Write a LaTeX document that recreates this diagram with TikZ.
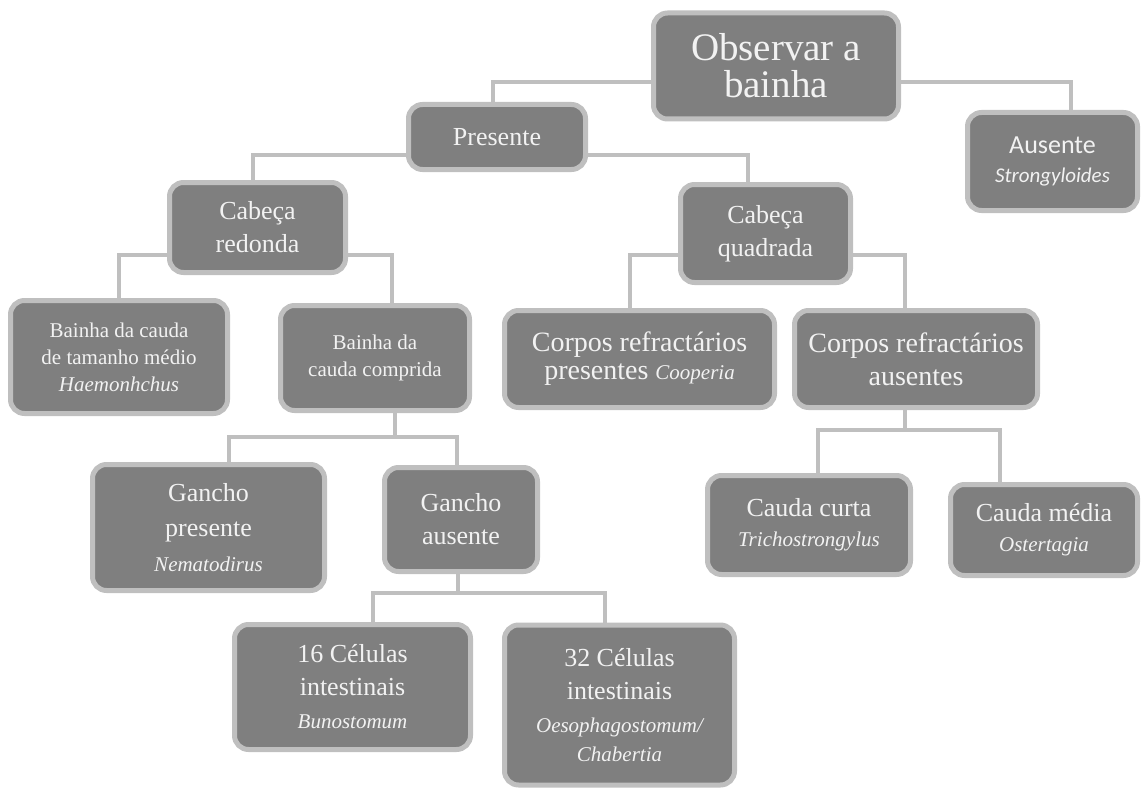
\documentclass[tikz,border=0pt]{standalone}
\usepackage{fontspec}
\setmainfont{Liberation Serif}
\newfontfamily\calibri{Carlito}
\usepackage{tikz}
\definecolor{boxfill}{HTML}{7F7F7F}
\definecolor{boxline}{HTML}{BFBFBF}
\definecolor{boxtext}{HTML}{F2F2F2}
\newcommand\spname[1]{{\fontsize{21}{30}\selectfont\itshape #1}}

\begin{document}
\begin{tikzpicture}[x=1pt,y=-1pt,
    box/.style={rectangle,rounded corners=14pt,draw=boxline,line width=5pt,fill=boxfill,text=boxtext,align=center,inner sep=0pt},
    link/.style={draw=boxline,line width=4pt}]
    \useasboundingbox (0,0) rectangle (1142,789);
    % boxes
    \node[box,minimum width=245pt,minimum height=106pt,font=\fontsize{39}{37}\selectfont] (obs) at (776,66) {Observar a\\bainha};
    \node[box,minimum width=177pt,minimum height=65pt,font=\fontsize{26}{30}\selectfont] (pres) at (497,137) {Presente};
    \node[box,minimum width=170pt,minimum height=98pt,font=\calibri\fontsize{26}{29}\selectfont] (aus) at (1052.5,161.5) {Ausente\\{\fontsize{21}{29}\selectfont\itshape Strongyloides}};
    \node[box,minimum width=176pt,minimum height=90pt,font=\fontsize{26}{33}\selectfont] (red) at (257.5,227.5) {Cabeça\\redonda};
    \node[box,minimum width=170pt,minimum height=98pt,font=\fontsize{26}{33}\selectfont] (quad) at (765.5,233.5) {Cabeça\\quadrada};
    \node[box,minimum width=217pt,minimum height=113pt,font=\fontsize{21}{27}\selectfont] (med) at (119,357) {Bainha da cauda\\de tamanho médio\\{\itshape Haemonhchus}};
    \node[box,minimum width=189pt,minimum height=105pt,font=\fontsize{21}{27}\selectfont] (comp) at (375,358) {Bainha da\\cauda comprida};
    \node[box,minimum width=270pt,minimum height=97pt,font=\fontsize{28}{28}\selectfont] (cpres) at (639.5,359) {Corpos refractários\\presentes \spname{Cooperia}};
    \node[box,minimum width=243pt,minimum height=97pt,font=\fontsize{28}{33}\selectfont] (caus) at (916,359) {Corpos refractários\\ausentes};
    \node[box,minimum width=232pt,minimum height=126pt,font=\fontsize{26}{35}\selectfont] (gpres) at (208.5,527.5) {Gancho\\presente\\\spname{Nematodirus}};
    \node[box,minimum width=153pt,minimum height=104pt,font=\fontsize{26}{33}\selectfont] (gaus) at (461,519.5) {Gancho\\ausente};
    \node[box,minimum width=203pt,minimum height=99pt,font=\fontsize{26}{30}\selectfont] (ccurta) at (809,525) {Cauda curta\\\spname{Trichostrongylus}};
    \node[box,minimum width=187pt,minimum height=91pt,font=\fontsize{26}{30}\selectfont] (cmedia) at (1044,530) {Cauda média\\\spname{Ostertagia}};
    \node[box,minimum width=236pt,minimum height=125pt,font=\fontsize{26}{33}\selectfont] (c16) at (352.5,687) {16 Células\\intestinais\\\spname{Bunostomum}};
    \node[box,minimum width=230pt,minimum height=160pt,font=\fontsize{26}{33}\selectfont] (c32) at (619.5,705) {32 Células\\intestinais\\\spname{Oesophagostomum/}\\[-4pt]\spname{Chabertia}};
    % bus points
    \coordinate (j1) at (395,437);
    \coordinate (j2) at (458,593);
    \coordinate (j3) at (905,430);
    % connectors
    \draw[link] ([yshift=-16pt]obs.west) -| ([xshift=-4pt]pres.north);
    \draw[link] ([yshift=-16pt]obs.east) -| ([xshift=18pt]aus.north);
    \draw[link] ([yshift=-18pt]pres.west) -| ([xshift=-5pt]red.north);
    \draw[link] ([yshift=-18pt]pres.east) -| ([xshift=-18pt]quad.north);
    \draw[link] ([yshift=-27.5pt]red.west) -| (med.north);
    \draw[link] ([yshift=-27.5pt]red.east) -| ([xshift=17pt]comp.north);
    \draw[link] ([yshift=-21.5pt]quad.west) -| ([xshift=-10pt]cpres.north);
    \draw[link] ([yshift=-21.5pt]quad.east) -| ([xshift=-11pt]caus.north);
    \draw[link] ([xshift=20pt]comp.south) |- (j1) -| ([xshift=20pt]gpres.north);
    \draw[link] (j1) -| ([xshift=-4pt]gaus.north);
    \draw[link] ([xshift=-3pt]gaus.south) |- (j2) -| ([xshift=20pt]c16.north);
    \draw[link] (j2) -| ([xshift=-15pt]c32.north);
    \draw[link] ([xshift=-11pt]caus.south) |- (j3) -| ([xshift=9pt]ccurta.north);
    \draw[link] (j3) -| ([xshift=-44pt]cmedia.north);
\end{tikzpicture}
\end{document}
